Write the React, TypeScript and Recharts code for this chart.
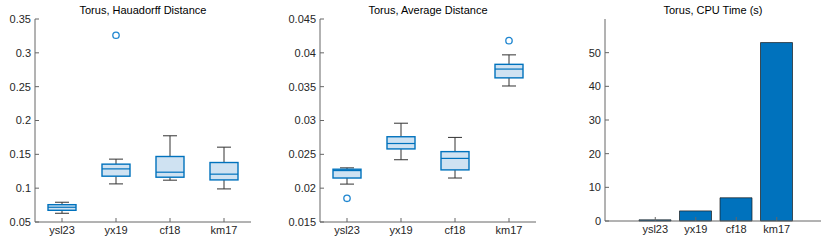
import React from "react";
import { ComposedChart, BarChart, Bar, Scatter, XAxis, YAxis } from "recharts";

const categories = ["ysl23", "yx19", "cf18", "km17"];

// Hausdorff distance box stats
const hdMin = [0.0629, 0.1063, 0.1118, 0.0989];
const hdQ1 = [0.0673, 0.1177, 0.1162, 0.1122];
const hdMed = [0.0718, 0.1285, 0.1236, 0.1207];
const hdQ3 = [0.0756, 0.1355, 0.1468, 0.1379];
const hdMax = [0.0792, 0.1429, 0.1774, 0.1606];
const hdOutliers = [null, 0.326, null, null];
const hdTicks = [0.05, 0.1, 0.15, 0.2, 0.25, 0.3, 0.35];

// average distance box stats
const adMin = [0.0206, 0.0242, 0.0215, 0.0351];
const adQ1 = [0.0215, 0.0258, 0.0227, 0.0363];
const adMed = [0.0226, 0.0266, 0.0244, 0.0376];
const adQ3 = [0.0228, 0.0276, 0.0254, 0.0383];
const adMax = [0.023, 0.0296, 0.0275, 0.0397];
const adOutliers = [0.0185, null, null, 0.0418];
const adTicks = [0.015, 0.02, 0.025, 0.03, 0.035, 0.04, 0.045];

// cpu time
const cpuTime = [0.35, 3.0, 6.9, 53.0];
const cpuTicks = [0, 10, 20, 30, 40, 50];

const FONT = "'Liberation Sans', Arial, Helvetica, sans-serif";
const AXIS = "#666";
const TEXT = "#262626";
const BLUE = "#0072BD";

const buildBoxData = (mn, q1, med, q3, mx, out) =>
  categories.map((name, i) => ({
    name,
    range: [mn[i], mx[i]],
    min: mn[i],
    q1: q1[i],
    med: med[i],
    q3: q3[i],
    max: mx[i],
    outlier: out[i],
  }));

const hdData = buildBoxData(hdMin, hdQ1, hdMed, hdQ3, hdMax, hdOutliers);
const adData = buildBoxData(adMin, adQ1, adMed, adQ3, adMax, adOutliers);
const cpuData = categories.map((name, i) => ({ name, cpu: cpuTime[i] }));

const BoxShape = (props: any) => {
  const { x, y, width, height, payload } = props;
  if (!payload) return <g />;
  const top = Math.min(y, y + height);
  const bottom = Math.max(y, y + height);
  const { min, max, q1, q3, med } = payload;
  const py = (v: number) => bottom - ((v - min) / (max - min)) * (bottom - top);
  const cx = x + width / 2;
  const cap = width / 4;
  return (
    <g>
      <line x1={cx} x2={cx} y1={py(max)} y2={py(q3)} stroke="#333" strokeWidth={1} />
      <line x1={cx} x2={cx} y1={py(q1)} y2={py(min)} stroke="#333" strokeWidth={1} />
      <line x1={cx - cap} x2={cx + cap} y1={py(max)} y2={py(max)} stroke="#333" strokeWidth={1} />
      <line x1={cx - cap} x2={cx + cap} y1={py(min)} y2={py(min)} stroke="#333" strokeWidth={1} />
      <rect x={x} y={py(q3)} width={width} height={py(q1) - py(q3)} fill="#cfe2f2" stroke={BLUE} strokeWidth={1.4} />
      <line x1={x} x2={x + width} y1={py(med)} y2={py(med)} stroke={BLUE} strokeWidth={1.2} />
    </g>
  );
};

const OutlierShape = (props: any) => {
  const { cx, cy, payload } = props;
  if (!payload || payload.outlier == null || !isFinite(cy)) return <g />;
  return <circle cx={cx} cy={cy} r={3.2} fill="none" stroke="#1f86d0" strokeWidth={1.3} />;
};

const empty = () => <g />;
const tickStyle = { fontSize: 11, fill: TEXT, fontFamily: FONT };

const Title = ({ left, text }) => (
  <div
    style={{
      position: "absolute",
      left,
      top: 3,
      width: 216,
      textAlign: "center",
      fontFamily: FONT,
      fontSize: 11,
      lineHeight: "14px",
      color: "#000",
      whiteSpace: "nowrap",
    }}
  >
    {text}
  </div>
);

const BoxPanel = ({ data, ticks, yWidth, rightMargin }) => (
  <ComposedChart
    width={yWidth + 216 + rightMargin}
    height={249}
    data={data}
    margin={{ top: 19, right: rightMargin, bottom: 0, left: 0 }}
  >
    <XAxis dataKey="name" height={27} tick={tickStyle} tickSize={-4} tickMargin={8} stroke={AXIS} />
    <XAxis xAxisId="top" orientation="top" dataKey="name" height={0} tick={empty} tickSize={-4} stroke={AXIS} />
    <YAxis
      type="number"
      domain={[ticks[0], ticks[ticks.length - 1]]}
      ticks={ticks}
      width={yWidth}
      tick={tickStyle}
      tickSize={-4}
      tickMargin={8}
      stroke={AXIS}
      allowDataOverflow
    />
    <YAxis
      yAxisId="r"
      orientation="right"
      type="number"
      domain={[ticks[0], ticks[ticks.length - 1]]}
      ticks={ticks}
      width={0}
      tick={empty}
      tickSize={-4}
      stroke={AXIS}
      allowDataOverflow
    />
    <Bar dataKey="range" barSize={28} shape={<BoxShape />} isAnimationActive={false} />
    <Scatter dataKey="outlier" shape={<OutlierShape />} isAnimationActive={false} />
  </ComposedChart>
);

const App = () => (
  <div style={{ position: "absolute", left: 0, top: 0, width: 830, height: 249, background: "#fff" }}>
    <div style={{ position: "absolute", left: 0, top: 0 }}>
      <BoxPanel data={hdData} ticks={hdTicks} yWidth={35} rightMargin={29} />
    </div>
    <div style={{ position: "absolute", left: 280, top: 0 }}>
      <BoxPanel data={adData} ticks={adTicks} yWidth={40} rightMargin={24} />
    </div>
    <div style={{ position: "absolute", left: 560, top: 0 }}>
      <BarChart width={270} height={249} data={cpuData} margin={{ top: 19, right: 9, bottom: 0, left: 0 }}>
        <XAxis
          dataKey="name"
          height={28}
          tick={tickStyle}
          tickSize={-4}
          tickMargin={8}
          stroke={AXIS}
          padding={{ left: 30, right: 24 }}
        />
        <XAxis
          xAxisId="top"
          orientation="top"
          dataKey="name"
          height={0}
          tick={empty}
          tickSize={-4}
          stroke={AXIS}
          padding={{ left: 30, right: 24 }}
        />
        <YAxis type="number" domain={[0, 60]} ticks={cpuTicks} width={45} tick={tickStyle} tickSize={-4} tickMargin={8} stroke={AXIS} />
        <YAxis yAxisId="r" orientation="right" type="number" domain={[0, 60]} ticks={cpuTicks} width={0} tick={empty} tickSize={-4} stroke={AXIS} />
        <Bar dataKey="cpu" fill={BLUE} stroke="#1a1a1a" strokeWidth={0.7} barSize={32} isAnimationActive={false} />
      </BarChart>
    </div>
    <Title left={35} text="Torus, Hauadorff Distance" />
    <Title left={320} text="Torus, Average Distance" />
    <Title left={605} text="Torus, CPU Time (s)" />
  </div>
);

export default App;
